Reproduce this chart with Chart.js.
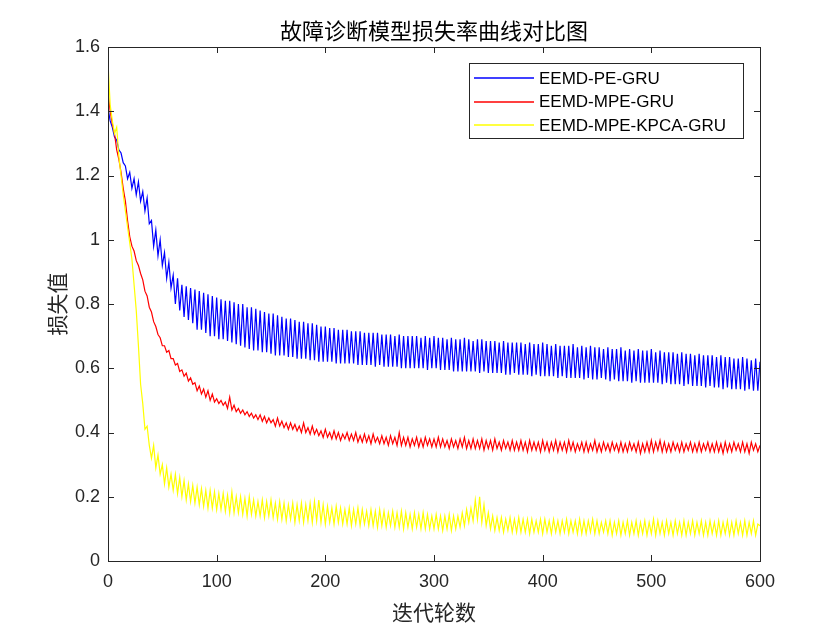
<!DOCTYPE html>
<html>
<head>
<meta charset="utf-8">
<title>故障诊断模型损失率曲线对比图</title>
<script src="https://cdn.jsdelivr.net/npm/chart.js@4.4.1/dist/chart.umd.min.js"></script>
<style>
  html, body { margin: 0; padding: 0; background: #fff; }
  canvas { display: block; }
</style>
</head>
<body>
<canvas id="loss" width="840" height="630"></canvas>
<script>
// one sample every 2 epochs, 0..600
const EPOCH_STEP = 2;

const seriesNames = ['EEMD-PE-GRU', 'EEMD-MPE-GRU', 'EEMD-MPE-KPCA-GRU'];
const seriesColors = ['#0000ff', '#ff0000', '#ffff00'];

const xTickValues = [0, 100, 200, 300, 400, 500, 600];
const xTickLabels = ['0', '100', '200', '300', '400', '500', '600'];
const yTickValues = [0, 0.2, 0.4, 0.6, 0.8, 1, 1.2, 1.4, 1.6];
const yTickLabels = ['0', '0.2', '0.4', '0.6', '0.8', '1', '1.2', '1.4', '1.6'];

const titleText = '故障诊断模型损失率曲线对比图';
const xAxisText = '迭代轮数';
const yAxisText = '损失值';

const peGruLoss = [
  1.41,1.37,1.35,1.32,1.31,1.28,1.27,1.24,1.23,1.19,
  1.21,1.16,1.19,1.14,1.18,1.12,1.15,1.09,1.13,1.05,
  1.06,0.98,1.03,0.95,1.00,0.92,0.96,0.88,0.93,0.85,
  0.89,0.80,0.88,0.78,0.86,0.76,0.855,0.75,0.85,0.74,
  0.845,0.72,0.84,0.72,0.835,0.71,0.83,0.70,0.825,0.70,
  0.82,0.69,0.815,0.69,0.81,0.685,0.81,0.68,0.805,0.675,
  0.80,0.67,0.80,0.665,0.79,0.66,0.79,0.655,0.785,0.655,
  0.78,0.65,0.775,0.65,0.77,0.645,0.77,0.64,0.765,0.64,
  0.76,0.64,0.755,0.635,0.755,0.635,0.75,0.63,0.745,0.63,
  0.745,0.63,0.74,0.625,0.74,0.625,0.735,0.62,0.73,0.62,
  0.73,0.62,0.725,0.62,0.725,0.615,0.72,0.615,0.72,0.615,
  0.72,0.615,0.715,0.615,0.715,0.61,0.715,0.61,0.71,0.61,
  0.71,0.61,0.71,0.605,0.71,0.61,0.705,0.605,0.705,0.605,
  0.705,0.605,0.70,0.605,0.705,0.60,0.70,0.60,0.70,0.60,
  0.70,0.60,0.70,0.60,0.695,0.60,0.70,0.595,0.695,0.60,
  0.70,0.60,0.695,0.595,0.695,0.595,0.69,0.595,0.695,0.59,
  0.69,0.59,0.69,0.59,0.695,0.59,0.69,0.59,0.685,0.59,
  0.69,0.585,0.69,0.59,0.685,0.585,0.685,0.585,0.685,0.585,
  0.68,0.585,0.685,0.58,0.68,0.58,0.68,0.585,0.68,0.58,
  0.68,0.58,0.675,0.58,0.68,0.575,0.675,0.58,0.675,0.575,
  0.68,0.575,0.675,0.575,0.67,0.575,0.675,0.57,0.67,0.575,
  0.67,0.57,0.67,0.57,0.675,0.57,0.665,0.57,0.67,0.565,
  0.665,0.57,0.67,0.565,0.665,0.565,0.665,0.57,0.66,0.565,
  0.665,0.56,0.66,0.565,0.66,0.56,0.665,0.56,0.655,0.56,
  0.66,0.555,0.655,0.56,0.66,0.555,0.655,0.555,0.655,0.555,
  0.66,0.555,0.65,0.555,0.655,0.55,0.65,0.555,0.65,0.55,
  0.65,0.55,0.645,0.55,0.65,0.545,0.645,0.55,0.645,0.545,
  0.64,0.545,0.645,0.545,0.64,0.54,0.64,0.545,0.64,0.54,
  0.635,0.54,0.64,0.535,0.635,0.54,0.635,0.535,0.63,0.535,
  0.63,0.535,0.635,0.53,0.63,0.535,0.625,0.53,0.63,0.53,
  0.62
];

const mpeGruLoss = [
  1.46,1.40,1.36,1.33,1.28,1.25,1.21,1.16,1.12,1.06,
  1.01,0.98,0.965,0.935,0.92,0.895,0.875,0.84,0.825,0.79,
  0.775,0.745,0.73,0.705,0.695,0.67,0.67,0.65,0.655,0.63,
  0.63,0.61,0.615,0.59,0.595,0.575,0.585,0.56,0.57,0.55,
  0.555,0.53,0.545,0.52,0.535,0.51,0.53,0.50,0.52,0.495,
  0.505,0.49,0.50,0.485,0.495,0.475,0.51,0.47,0.485,0.465,
  0.475,0.46,0.47,0.455,0.465,0.45,0.46,0.445,0.455,0.44,
  0.455,0.435,0.45,0.43,0.445,0.43,0.44,0.42,0.445,0.42,
  0.435,0.415,0.43,0.41,0.43,0.41,0.425,0.405,0.42,0.40,
  0.43,0.40,0.415,0.395,0.42,0.395,0.41,0.39,0.405,0.385,
  0.41,0.385,0.40,0.38,0.405,0.38,0.40,0.375,0.395,0.38,
  0.40,0.375,0.395,0.375,0.40,0.37,0.39,0.37,0.395,0.37,
  0.39,0.365,0.395,0.37,0.385,0.365,0.39,0.365,0.385,0.36,
  0.39,0.365,0.385,0.36,0.40,0.36,0.385,0.36,0.385,0.355,
  0.38,0.36,0.385,0.355,0.38,0.355,0.385,0.36,0.38,0.355,
  0.38,0.355,0.385,0.355,0.38,0.355,0.375,0.35,0.38,0.355,
  0.375,0.35,0.38,0.355,0.385,0.35,0.375,0.35,0.38,0.35,
  0.375,0.35,0.38,0.345,0.375,0.35,0.375,0.345,0.38,0.35,
  0.37,0.345,0.375,0.35,0.37,0.345,0.375,0.345,0.37,0.345,
  0.375,0.345,0.37,0.34,0.375,0.345,0.37,0.345,0.37,0.34,
  0.375,0.345,0.37,0.34,0.37,0.345,0.375,0.34,0.37,0.345,
  0.37,0.34,0.375,0.345,0.37,0.34,0.365,0.345,0.37,0.34,
  0.37,0.34,0.365,0.345,0.375,0.34,0.365,0.34,0.37,0.345,
  0.365,0.34,0.37,0.345,0.365,0.34,0.37,0.34,0.365,0.34,
  0.37,0.345,0.365,0.34,0.37,0.335,0.365,0.34,0.37,0.34,
  0.375,0.34,0.37,0.345,0.375,0.34,0.37,0.34,0.365,0.34,
  0.37,0.345,0.365,0.34,0.37,0.34,0.365,0.345,0.37,0.34,
  0.365,0.34,0.37,0.34,0.365,0.345,0.37,0.34,0.365,0.34,
  0.37,0.34,0.365,0.335,0.37,0.34,0.365,0.34,0.37,0.345,
  0.365,0.34,0.37,0.34,0.365,0.335,0.37,0.345,0.365,0.34,
  0.36
];

const mpeKpcaGruLoss = [
  1.55,1.42,1.37,1.33,1.35,1.26,1.20,1.14,1.09,1.04,
  0.99,0.94,0.86,0.78,0.67,0.55,0.49,0.41,0.42,0.36,
  0.32,0.36,0.29,0.33,0.27,0.30,0.24,0.29,0.23,0.27,
  0.22,0.27,0.21,0.26,0.20,0.25,0.19,0.24,0.185,0.235,
  0.18,0.23,0.175,0.225,0.17,0.22,0.165,0.22,0.165,0.215,
  0.16,0.21,0.16,0.21,0.155,0.205,0.15,0.215,0.15,0.20,
  0.15,0.20,0.145,0.195,0.14,0.20,0.145,0.19,0.14,0.185,
  0.14,0.19,0.135,0.185,0.14,0.19,0.135,0.18,0.13,0.185,
  0.13,0.18,0.125,0.175,0.13,0.18,0.12,0.175,0.125,0.18,
  0.12,0.175,0.125,0.18,0.12,0.185,0.125,0.19,0.12,0.175,
  0.115,0.17,0.12,0.165,0.115,0.17,0.12,0.165,0.115,0.16,
  0.115,0.165,0.11,0.16,0.115,0.165,0.11,0.16,0.115,0.155,
  0.11,0.16,0.11,0.155,0.105,0.16,0.11,0.155,0.105,0.15,
  0.11,0.155,0.105,0.15,0.105,0.155,0.10,0.15,0.105,0.145,
  0.10,0.15,0.105,0.145,0.10,0.15,0.10,0.145,0.10,0.14,
  0.10,0.145,0.10,0.14,0.095,0.14,0.10,0.145,0.095,0.14,
  0.10,0.14,0.105,0.15,0.11,0.16,0.12,0.165,0.125,0.19,
  0.13,0.20,0.12,0.175,0.11,0.15,0.10,0.14,0.095,0.135,
  0.095,0.135,0.09,0.13,0.095,0.135,0.09,0.13,0.09,0.135,
  0.09,0.13,0.09,0.13,0.085,0.13,0.09,0.125,0.09,0.13,
  0.085,0.13,0.09,0.125,0.085,0.13,0.09,0.125,0.085,0.125,
  0.09,0.13,0.085,0.125,0.09,0.125,0.085,0.13,0.085,0.125,
  0.085,0.125,0.09,0.13,0.085,0.125,0.085,0.12,0.09,0.125,
  0.085,0.125,0.08,0.12,0.085,0.125,0.08,0.12,0.085,0.125,
  0.08,0.12,0.085,0.125,0.08,0.12,0.085,0.125,0.08,0.12,
  0.085,0.13,0.08,0.125,0.085,0.12,0.08,0.125,0.085,0.12,
  0.08,0.125,0.085,0.12,0.08,0.125,0.08,0.12,0.085,0.125,
  0.08,0.12,0.085,0.125,0.08,0.12,0.08,0.125,0.085,0.12,
  0.08,0.125,0.08,0.12,0.085,0.125,0.08,0.12,0.08,0.125,
  0.085,0.12,0.08,0.125,0.08,0.12,0.085,0.125,0.08,0.115,
  0.11
];

const lossSeries = [peGruLoss, mpeGruLoss, mpeKpcaGruLoss];

const AXIS_COLOR = '#262626';
const FONT = '"Liberation Sans", Arial, sans-serif';
const CJK_FONT = '"Noto Sans CJK SC", sans-serif';

function toPoints(values) {
  return values.map((v, i) => ({ x: i * EPOCH_STEP, y: v }));
}

// matlab style box, inward ticks, legend and titles
const matlabFrame = {
  id: 'matlabFrame',
  afterDatasetsDraw(chart) {
    const { ctx, chartArea: a, scales } = chart;
    const tick = 6;
    ctx.save();
    ctx.strokeStyle = AXIS_COLOR;
    ctx.lineWidth = 1;
    ctx.beginPath();
    xTickValues.forEach(v => {
      const px = Math.round(scales.x.getPixelForValue(v)) + 0.5;
      ctx.moveTo(px, a.bottom); ctx.lineTo(px, a.bottom - tick);
      ctx.moveTo(px, a.top); ctx.lineTo(px, a.top + tick);
    });
    yTickValues.forEach(v => {
      const py = Math.round(scales.y.getPixelForValue(v)) + 0.5;
      ctx.moveTo(a.left, py); ctx.lineTo(a.left + tick, py);
      ctx.moveTo(a.right, py); ctx.lineTo(a.right - tick, py);
    });
    ctx.stroke();
    ctx.strokeRect(Math.round(a.left) + 0.5, Math.round(a.top) + 0.5,
      Math.round(a.right - a.left), Math.round(a.bottom - a.top));

    // legend box inside the axes, top right
    const box = { left: 469.5, top: 63.5, width: 274, height: 75 };
    ctx.fillStyle = '#ffffff';
    ctx.fillRect(box.left, box.top, box.width, box.height);
    ctx.strokeRect(box.left, box.top, box.width, box.height);
    ctx.font = '17px ' + FONT;
    ctx.textBaseline = 'middle';
    ctx.textAlign = 'left';
    chart.data.datasets.forEach((ds, i) => {
      const y = 78 + i * 23.5;
      ctx.strokeStyle = ds.borderColor;
      ctx.lineWidth = 1.6;
      ctx.beginPath();
      ctx.moveTo(474, Math.round(y));
      ctx.lineTo(534, Math.round(y));
      ctx.stroke();
      ctx.fillStyle = '#000000';
      ctx.fillText(ds.label, 539, y + 1);
    });
    ctx.restore();
  },
  afterDraw(chart) {
    const { ctx, chartArea: a } = chart;
    const cx = (a.left + a.right) / 2;
    ctx.save();
    ctx.fillStyle = '#000000';
    ctx.textAlign = 'center';
    ctx.textBaseline = 'middle';
    ctx.font = '22px ' + CJK_FONT;
    ctx.fillText(titleText, cx, 31);
    ctx.font = '21px ' + CJK_FONT;
    ctx.fillStyle = AXIS_COLOR;
    ctx.fillText(xAxisText, cx, 612);
    ctx.translate(57, (a.top + a.bottom) / 2);
    ctx.rotate(-Math.PI / 2);
    ctx.fillText(yAxisText, 0, 0);
    ctx.restore();
  }
};

const ctx = document.getElementById('loss').getContext('2d');

new Chart(ctx, {
  type: 'line',
  data: {
    datasets: seriesNames.map((name, i) => ({
      label: name,
      data: toPoints(lossSeries[i]),
      borderColor: seriesColors[i],
      backgroundColor: seriesColors[i],
      borderWidth: 1.2,
      pointRadius: 0,
      tension: 0,
      fill: false,
      order: seriesNames.length - i   // later series on top, like matlab
    }))
  },
  options: {
    responsive: false,
    animation: false,
    devicePixelRatio: 1,
    layout: { padding: { left: 0, top: 47, right: 80, bottom: 0 } },
    plugins: {
      legend: { display: false },
      title: { display: false },
      tooltip: { enabled: false }
    },
    scales: {
      x: {
        type: 'linear',
        min: 0,
        max: 600,
        afterBuildTicks: s => { s.ticks = xTickValues.map(v => ({ value: v })); },
        afterFit: s => { s.height = 69; },
        grid: { display: false, drawTicks: false },
        border: { display: false },
        ticks: {
          padding: 10,
          color: AXIS_COLOR,
          font: { family: FONT, size: 18 },
          maxRotation: 0,
          callback: (v, i) => xTickLabels[i]
        }
      },
      y: {
        type: 'linear',
        min: 0,
        max: 1.6,
        afterBuildTicks: s => { s.ticks = yTickValues.map(v => ({ value: v })); },
        afterFit: s => { s.width = 108; },
        grid: { display: false, drawTicks: false },
        border: { display: false },
        ticks: {
          padding: 8,
          color: AXIS_COLOR,
          font: { family: FONT, size: 18 },
          callback: (v, i) => yTickLabels[i]
        }
      }
    }
  },
  plugins: [matlabFrame]
});
</script>
</body>
</html>
